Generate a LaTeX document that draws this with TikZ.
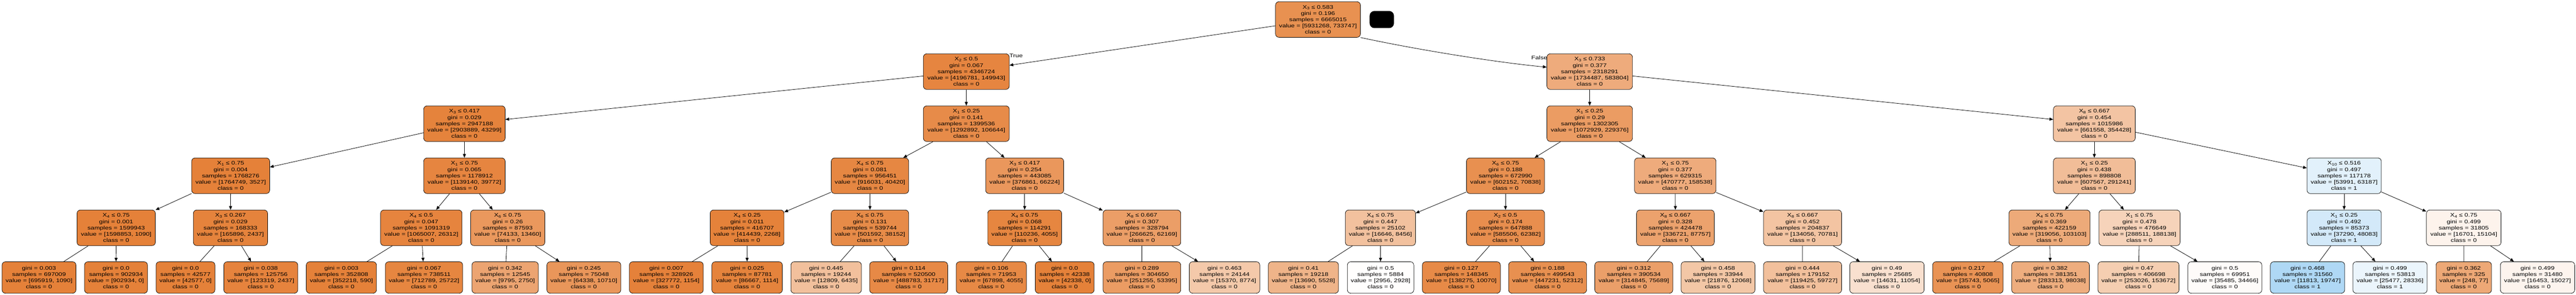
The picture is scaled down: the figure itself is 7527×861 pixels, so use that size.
\documentclass[tikz,border=0pt]{standalone}
\usepackage{fontspec}
\newfontfamily\treefont{Liberation Sans}[FakeStretch=1.26]
\usetikzlibrary{arrows.meta}
\definecolor{leftclass}{RGB}{229,129,57}
\definecolor{rightclass}{RGB}{57,157,229}
\tikzset{
  dtsplit/.style={draw=black, line width=1.1pt, rounded corners=10pt, align=center,
    inner xsep=3pt, inner ysep=0pt, minimum height=104pt,
    font=\treefont\fontsize{15.2}{18.3}\selectfont},
  dtleaf/.style={dtsplit, minimum height=92pt},
  tint/.code 2 args={\ifnum#1<#2\relax
      \edef\dtcol{rightclass!\fpeval{round(100-100*#1/#2,2)}!white}%
    \else
      \edef\dtcol{leftclass!\fpeval{round(100-100*#2/#1,2)}!white}%
    \fi
    \edef\dttmp{\noexpand\pgfkeysalso{fill=\dtcol}}\dttmp},
  branch/.style={line width=1.2pt, -{Triangle[length=11pt,width=9pt]}},
  lbl/.style={font=\treefont\fontsize{15.2}{18.3}\selectfont, inner sep=0pt}
}
\begin{document}
\begin{tikzpicture}[x=1pt,y=-1pt]
\useasboundingbox (0,0) rectangle (7527,861);
% root and first split
\node[dtsplit, tint={5931268}{733747}, minimum width=248pt] (n0) at (3851,57) {X\textsubscript{3} ≤ 0.583\\gini = 0.196\\samples = 6665015\\value = [5931268, 733747]\\class = 0};
\node[fill=black, rounded corners=14pt, minimum width=71pt, minimum height=50pt, inner sep=0pt] (blob) at (4037.5,57) {};
\node[dtsplit, tint={4196781}{149943}, minimum width=251pt] (a) at (2823.5,209) {X\textsubscript{2} ≤ 0.5\\gini = 0.067\\samples = 4346724\\value = [4196781, 149943]\\class = 0};
\node[dtsplit, tint={1734487}{583804}, minimum width=250pt] (b) at (4645,209) {X\textsubscript{3} ≤ 0.733\\gini = 0.377\\samples = 2318291\\value = [1734487, 583804]\\class = 0};
\node[lbl] (truelbl) at (2969,162) {True};
\node[lbl] (falselbl) at (4498,169) {False};
% level 2
\node[dtsplit, tint={2903889}{43299}, minimum width=238pt] (aa) at (1357,361) {X\textsubscript{3} ≤ 0.417\\gini = 0.029\\samples = 2947188\\value = [2903889, 43299]\\class = 0};
\node[dtsplit, tint={1292892}{106644}, minimum width=251pt] (ab) at (2823.5,361) {X\textsubscript{1} ≤ 0.25\\gini = 0.141\\samples = 1399536\\value = [1292892, 106644]\\class = 0};
\node[dtsplit, tint={1072929}{229376}, minimum width=250pt] (ba) at (4645,361) {X\textsubscript{1} ≤ 0.25\\gini = 0.29\\samples = 1302305\\value = [1072929, 229376]\\class = 0};
\node[dtsplit, tint={661558}{354428}, minimum width=239pt] (bb) at (6119.5,361) {X\textsubscript{8} ≤ 0.667\\gini = 0.454\\samples = 1015986\\value = [661558, 354428]\\class = 0};
% level 3
\node[dtsplit, tint={1764749}{3527}, minimum width=228pt] (aaa) at (674,513) {X\textsubscript{1} ≤ 0.75\\gini = 0.004\\samples = 1768276\\value = [1764749, 3527]\\class = 0};
\node[dtsplit, tint={1139140}{39772}, minimum width=238pt] (aab) at (1357,513) {X\textsubscript{1} ≤ 0.75\\gini = 0.065\\samples = 1178912\\value = [1139140, 39772]\\class = 0};
\node[dtsplit, tint={916031}{40420}, minimum width=226pt] (aba) at (2542,513) {X\textsubscript{4} ≤ 0.75\\gini = 0.081\\samples = 956451\\value = [916031, 40420]\\class = 0};
\node[dtsplit, tint={376861}{66224}, minimum width=228pt] (abb) at (2994,513) {X\textsubscript{3} ≤ 0.417\\gini = 0.254\\samples = 443085\\value = [376861, 66224]\\class = 0};
\node[dtsplit, tint={602152}{70838}, minimum width=228pt] (baa) at (4399,513) {X\textsubscript{6} ≤ 0.75\\gini = 0.188\\samples = 672990\\value = [602152, 70838]\\class = 0};
\node[dtsplit, tint={470777}{158538}, minimum width=238pt] (bab) at (4895,513) {X\textsubscript{1} ≤ 0.75\\gini = 0.377\\samples = 629315\\value = [470777, 158538]\\class = 0};
\node[dtsplit, tint={607567}{291241}, minimum width=239pt] (bba) at (6119.5,513) {X\textsubscript{1} ≤ 0.25\\gini = 0.438\\samples = 898808\\value = [607567, 291241]\\class = 0};
\node[dtsplit, tint={53991}{63187}, minimum width=217pt] (bbb) at (6849.5,513) {X\textsubscript{10} ≤ 0.516\\gini = 0.497\\samples = 117178\\value = [53991, 63187]\\class = 1};
% level 4
\node[dtsplit, tint={1598853}{1090}, minimum width=229pt] (aaaa) at (339.5,665) {X\textsubscript{4} ≤ 0.75\\gini = 0.001\\samples = 1599943\\value = [1598853, 1090]\\class = 0};
\node[dtsplit, tint={165896}{2437}, minimum width=217pt] (aaab) at (673.5,665) {X\textsubscript{3} ≤ 0.267\\gini = 0.029\\samples = 168333\\value = [165896, 2437]\\class = 0};
\node[dtsplit, tint={1065007}{26312}, minimum width=238pt] (aaba) at (1231,665) {X\textsubscript{4} ≤ 0.5\\gini = 0.047\\samples = 1091319\\value = [1065007, 26312]\\class = 0};
\node[dtsplit, tint={74133}{13460}, minimum width=217pt] (aabb) at (1483.5,665) {X\textsubscript{6} ≤ 0.75\\gini = 0.26\\samples = 87593\\value = [74133, 13460]\\class = 0};
\node[dtsplit, tint={414439}{2268}, minimum width=216pt] (abaa) at (2183,665) {X\textsubscript{4} ≤ 0.25\\gini = 0.011\\samples = 416707\\value = [414439, 2268]\\class = 0};
\node[dtsplit, tint={501592}{38152}, minimum width=226pt] (abab) at (2542,665) {X\textsubscript{6} ≤ 0.75\\gini = 0.131\\samples = 539744\\value = [501592, 38152]\\class = 0};
\node[dtsplit, tint={110236}{4055}, minimum width=216pt] (abba) at (2994,665) {X\textsubscript{4} ≤ 0.75\\gini = 0.068\\samples = 114291\\value = [110236, 4055]\\class = 0};
\node[dtsplit, tint={266625}{62169}, minimum width=227pt] (abbb) at (3336.5,665) {X\textsubscript{8} ≤ 0.667\\gini = 0.307\\samples = 328794\\value = [266625, 62169]\\class = 0};
\node[dtsplit, tint={16646}{8456}, minimum width=205pt] (baaa) at (4033.5,665) {X\textsubscript{4} ≤ 0.75\\gini = 0.447\\samples = 25102\\value = [16646, 8456]\\class = 0};
\node[dtsplit, tint={585506}{62382}, minimum width=228pt] (baab) at (4399,665) {X\textsubscript{2} ≤ 0.5\\gini = 0.174\\samples = 647888\\value = [585506, 62382]\\class = 0};
\node[dtsplit, tint={336721}{87757}, minimum width=227pt] (baba) at (4895.5,665) {X\textsubscript{8} ≤ 0.667\\gini = 0.328\\samples = 424478\\value = [336721, 87757]\\class = 0};
\node[dtsplit, tint={134056}{70781}, minimum width=228pt] (babb) at (5267,665) {X\textsubscript{8} ≤ 0.667\\gini = 0.452\\samples = 204837\\value = [134056, 70781]\\class = 0};
\node[dtsplit, tint={319056}{103103}, minimum width=237pt] (bbaa) at (5988.5,665) {X\textsubscript{4} ≤ 0.75\\gini = 0.369\\samples = 422159\\value = [319056, 103103]\\class = 0};
\node[dtsplit, tint={288511}{188138}, minimum width=237pt] (bbab) at (6251.5,665) {X\textsubscript{1} ≤ 0.75\\gini = 0.478\\samples = 476649\\value = [288511, 188138]\\class = 0};
\node[dtsplit, tint={37290}{48083}, minimum width=217pt] (bbba) at (6849.5,665) {X\textsubscript{1} ≤ 0.25\\gini = 0.492\\samples = 85373\\value = [37290, 48083]\\class = 1};
\node[dtsplit, tint={16701}{15104}, minimum width=218pt] (bbbb) at (7199,665) {X\textsubscript{4} ≤ 0.75\\gini = 0.499\\samples = 31805\\value = [16701, 15104]\\class = 0};
% leaves
\node[dtleaf, tint={695919}{1090}, minimum width=216pt] (aaaaa) at (114,810) {gini = 0.003\\samples = 697009\\value = [695919, 1090]\\class = 0};
\node[dtleaf, tint={902934}{0}, minimum width=184pt] (aaaab) at (339,810) {gini = 0.0\\samples = 902934\\value = [902934, 0]\\class = 0};
\node[dtleaf, tint={42577}{0}, minimum width=172pt] (aaaba) at (542,810) {gini = 0.0\\samples = 42577\\value = [42577, 0]\\class = 0};
\node[dtleaf, tint={123319}{2437}, minimum width=216pt] (aaabb) at (762,810) {gini = 0.038\\samples = 125756\\value = [123319, 2437]\\class = 0};
\node[dtleaf, tint={352218}{590}, minimum width=205pt] (aabaa) at (997.5,810) {gini = 0.003\\samples = 352808\\value = [352218, 590]\\class = 0};
\node[dtleaf, tint={712789}{25722}, minimum width=226pt] (aabab) at (1239,810) {gini = 0.067\\samples = 738511\\value = [712789, 25722]\\class = 0};
\node[dtleaf, tint={9795}{2750}, minimum width=194pt] (aabba) at (1476,810) {gini = 0.342\\samples = 12545\\value = [9795, 2750]\\class = 0};
\node[dtleaf, tint={64338}{10710}, minimum width=216pt] (aabbb) at (1706,810) {gini = 0.245\\samples = 75048\\value = [64338, 10710]\\class = 0};
\node[dtleaf, tint={327772}{1154}, minimum width=216pt] (abaaa) at (1947,810) {gini = 0.007\\samples = 328926\\value = [327772, 1154]\\class = 0};
\node[dtleaf, tint={86667}{1114}, minimum width=206pt] (abaab) at (2183,810) {gini = 0.025\\samples = 87781\\value = [86667, 1114]\\class = 0};
\node[dtleaf, tint={12809}{6435}, minimum width=206pt] (ababa) at (2414,810) {gini = 0.445\\samples = 19244\\value = [12809, 6435]\\class = 0};
\node[dtleaf, tint={488783}{31717}, minimum width=228pt] (ababb) at (2655,810) {gini = 0.114\\samples = 520500\\value = [488783, 31717]\\class = 0};
\node[dtleaf, tint={67898}{4055}, minimum width=205pt] (abbaa) at (2896.5,810) {gini = 0.106\\samples = 71953\\value = [67898, 4055]\\class = 0};
\node[dtleaf, tint={42338}{0}, minimum width=172pt] (abbab) at (3111,810) {gini = 0.0\\samples = 42338\\value = [42338, 0]\\class = 0};
\node[dtleaf, tint={251255}{53395}, minimum width=227pt] (abbba) at (3336.5,810) {gini = 0.289\\samples = 304650\\value = [251255, 53395]\\class = 0};
\node[dtleaf, tint={15370}{8774}, minimum width=206pt] (abbbb) at (3578,810) {gini = 0.463\\samples = 24144\\value = [15370, 8774]\\class = 0};
\node[dtleaf, tint={13690}{5528}, minimum width=205pt] (baaaa) at (3808.5,810) {gini = 0.41\\samples = 19218\\value = [13690, 5528]\\class = 0};
\node[dtleaf, tint={2956}{2928}, minimum width=194pt] (baaab) at (4034,810) {gini = 0.5\\samples = 5884\\value = [2956, 2928]\\class = 0};
\node[dtleaf, tint={138275}{10070}, minimum width=228pt] (baaba) at (4270,810) {gini = 0.127\\samples = 148345\\value = [138275, 10070]\\class = 0};
\node[dtleaf, tint={447231}{52312}, minimum width=228pt] (baabb) at (4522,810) {gini = 0.188\\samples = 499543\\value = [447231, 52312]\\class = 0};
\node[dtleaf, tint={314845}{75689}, minimum width=228pt] (babaa) at (4774,810) {gini = 0.312\\samples = 390534\\value = [314845, 75689]\\class = 0};
\node[dtleaf, tint={21876}{12068}, minimum width=216pt] (babab) at (5020,810) {gini = 0.458\\samples = 33944\\value = [21876, 12068]\\class = 0};
\node[dtleaf, tint={119425}{59727}, minimum width=228pt] (babba) at (5267,810) {gini = 0.444\\samples = 179152\\value = [119425, 59727]\\class = 0};
\node[dtleaf, tint={14631}{11054}, minimum width=217pt] (babbb) at (5513.5,810) {gini = 0.49\\samples = 25685\\value = [14631, 11054]\\class = 0};
\node[dtleaf, tint={35743}{5065}, minimum width=206pt] (bbaaa) at (5750,810) {gini = 0.217\\samples = 40808\\value = [35743, 5065]\\class = 0};
\node[dtleaf, tint={283313}{98038}, minimum width=227pt] (bbaab) at (5991.5,810) {gini = 0.382\\samples = 381351\\value = [283313, 98038]\\class = 0};
\node[dtleaf, tint={253026}{153672}, minimum width=237pt] (bbaba) at (6248.5,810) {gini = 0.47\\samples = 406698\\value = [253026, 153672]\\class = 0};
\node[dtleaf, tint={35485}{34466}, minimum width=216pt] (bbabb) at (6501,810) {gini = 0.5\\samples = 69951\\value = [35485, 34466]\\class = 0};
\node[dtleaf, tint={11813}{19747}, minimum width=217pt] (bbbaa) at (6742.5,810) {gini = 0.468\\samples = 31560\\value = [11813, 19747]\\class = 1};
\node[dtleaf, tint={25477}{28336}, minimum width=217pt] (bbbab) at (6983.5,810) {gini = 0.499\\samples = 53813\\value = [25477, 28336]\\class = 1};
\node[dtleaf, tint={248}{77}, minimum width=162pt] (bbbba) at (7199,810) {gini = 0.362\\samples = 325\\value = [248, 77]\\class = 0};
\node[dtleaf, tint={16453}{15027}, minimum width=217pt] (bbbbb) at (7414.5,810) {gini = 0.499\\samples = 31480\\value = [16453, 15027]\\class = 0};
% connectors
\draw[branch] (n0) -- (a);
\draw[branch] (n0.south east) .. controls (4150,147) and (4380,183) .. ([yshift=13pt]b.west);
\foreach \p/\c in {a/aa, a/ab, b/ba, b/bb,
    aa/aaa, aa/aab, ab/aba, ab/abb, ba/baa, ba/bab, bb/bba, bb/bbb,
    aaa/aaaa, aaa/aaab, aab/aaba, aab/aabb, aba/abaa, aba/abab, abb/abba, abb/abbb,
    baa/baaa, baa/baab, bab/baba, bab/babb, bba/bbaa, bba/bbab, bbb/bbba, bbb/bbbb}
  \draw[branch] (\p) -- (\c);
\foreach \p in {aaaa, aaab, aaba, aabb, abaa, abab, abba, abbb,
    baaa, baab, baba, babb, bbaa, bbab, bbba, bbbb}
  \draw[branch] (\p) -- (\p a) (\p) -- (\p b);
\end{tikzpicture}
\end{document}
